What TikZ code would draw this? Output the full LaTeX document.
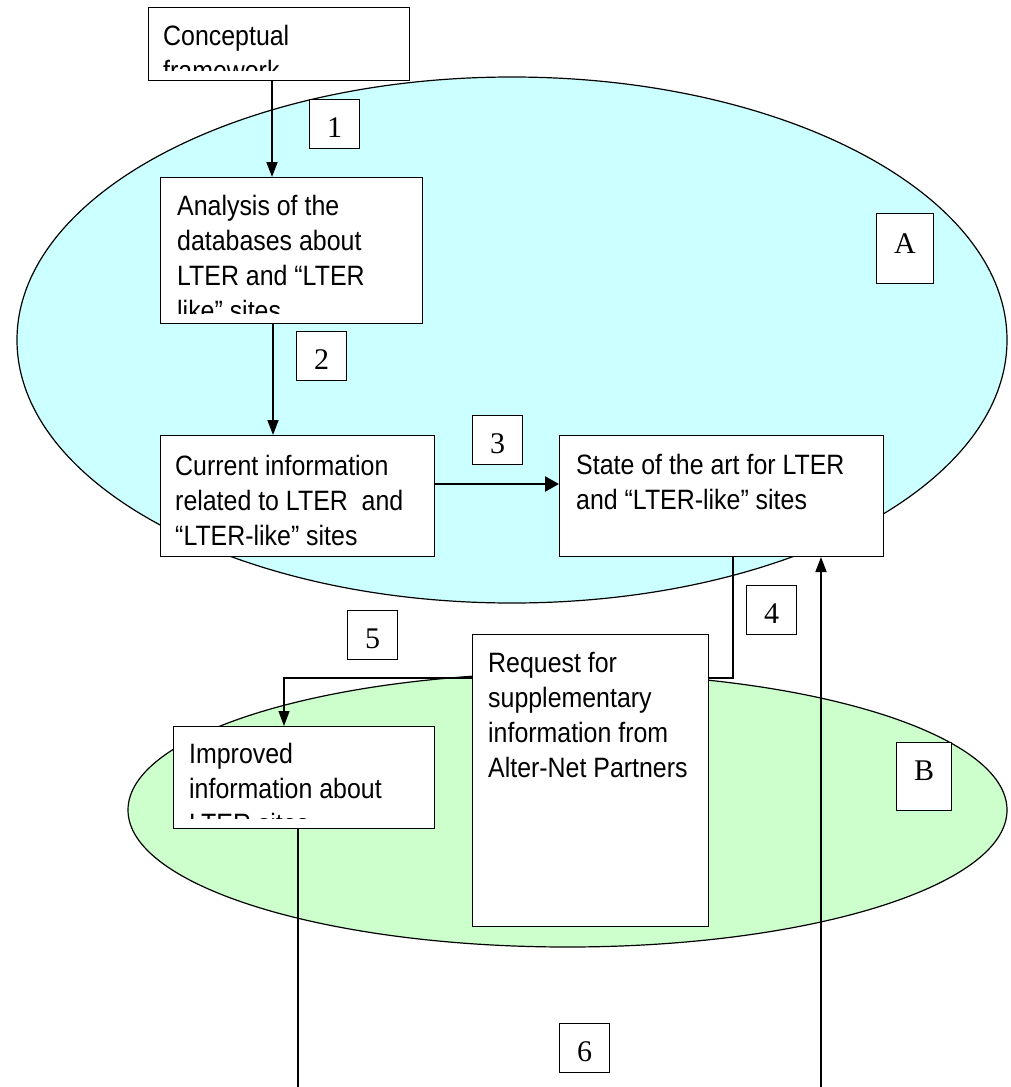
\documentclass[tikz,border=0pt]{standalone}
\usepackage{fontspec}
\newfontfamily\boxfamily{Liberation Sans}[FakeStretch=0.89]
\newfontfamily\labfamily{Liberation Serif}
\usepackage{tikz}
\usetikzlibrary{arrows.meta}
\definecolor{zoneA}{HTML}{CCFFFF}
\definecolor{zoneB}{HTML}{CCFFCC}
\pgfdeclarelayer{zones}
\pgfdeclarelayer{links}
\pgfsetlayers{zones,links,main}

\begin{document}
\begin{tikzpicture}[x=1pt, y=-1pt,
    txtbox/.style={draw, fill=white, line width=1pt, inner sep=0pt, anchor=north west},
    txt/.style={anchor=north west, inner sep=0pt, align=left,
      font={\boxfamily\fontsize{28}{35}\selectfont}},
    numbox/.style={draw, fill=white, line width=1pt, inner sep=0pt, anchor=north west,
      font={\labfamily\fontsize{30}{36}\selectfont},
      minimum width=50pt, text height=38pt, text depth=11pt},
    link/.style={line width=1.2pt},
    flow/.style={line width=1.7pt, -{Triangle[length=15pt,width=11pt]}},
    bigflow/.style={line width=2.6pt, -{Triangle[length=14pt,width=15pt]}}]
        \useasboundingbox (0,0) rectangle (1010,1087);
        \begin{pgfonlayer}{zones}
          \draw[fill=zoneA, line width=1.2pt] (512,340) ellipse [x radius=495pt, y radius=263pt];
          \draw[fill=zoneB, line width=1.2pt] (567.5,810) ellipse [x radius=439.5pt, y radius=137pt];
        \end{pgfonlayer}

        % text boxes
        \node[txtbox, minimum width=261pt, minimum height=73pt] (concept) at (148,7) {};
        \node[txtbox, minimum width=262pt, minimum height=146pt] (analysis) at (160,177) {};
        \node[txtbox, minimum width=274pt, minimum height=121pt] (current) at (160,435) {};
        \node[txtbox, minimum width=324pt, minimum height=121pt] (state) at (559,435) {};
        \node[txtbox, minimum width=236pt, minimum height=292pt] (request) at (472,634) {};
        \node[txtbox, minimum width=261pt, minimum height=102pt] (improved) at (173,726) {};

        \begin{scope}
          \clip (concept.north west) rectangle ([yshift=11pt]concept.south east);
          \node[txt] (conceptText) at ([xshift=15pt,yshift=-18pt]concept.north west)
            {Conceptual\\framework};
        \end{scope}
        \begin{scope}
          \clip (analysis.north west) rectangle ([yshift=11pt]analysis.south east);
          \node[txt] (analysisText) at ([xshift=17pt,yshift=-18pt]analysis.north west)
            {Analysis of the\\databases about\\LTER and “LTER\\like” sites};
        \end{scope}
        \node[txt] (currentText) at ([xshift=15pt,yshift=-20pt]current.north west)
          {Current information\\related to LTER\ \ and\\“LTER-like” sites};
        \node[txt] (stateText) at ([xshift=17pt,yshift=-19pt]state.north west)
          {State of the art for LTER\\and “LTER-like” sites};
        \node[txt] (requestText) at ([xshift=16pt,yshift=-18pt]request.north west)
          {Request for\\supplementary\\information from\\Alter-Net Partners};
        \begin{scope}
          \clip (improved.north west) rectangle ([yshift=11pt]improved.south east);
          \node[txt] (improvedText) at ([xshift=16pt,yshift=-17pt]improved.north west)
            {Improved\\information about\\LTER sites};
        \end{scope}

        % numbers and zone letters
        \node[numbox] (n1) at (309,99) {1};
        \node[numbox] (n2) at (296,331) {2};
        \node[numbox] (n3) at (472,415) {3};
        \node[numbox] (n4) at (746,585) {4};
        \node[numbox] (n5) at (347,610) {5};
        \node[numbox] (n6) at (559,1023) {6};
        \node[numbox, minimum width=57pt, text height=40pt, text depth=30pt] (zA) at (876,213) {A};
        \node[numbox, minimum width=55pt, text height=38pt, text depth=30pt] (zB) at (896,742) {B};

        \coordinate (outL) at (298,1087);
        \coordinate (outR) at (821,1087);
        \begin{pgfonlayer}{links}
          \draw[flow] ([xshift=124pt]concept.south west) -- ([xshift=112pt]analysis.north west);
          \draw[flow] ([xshift=113pt]analysis.south west) -- ([xshift=113pt]current.north west);
          \draw[bigflow] ([yshift=12pt]current.east) -- ([yshift=12pt]state.west);
          \draw[link, -{Triangle[length=15pt,width=11pt]}] ([xshift=174pt]state.south west)
            -- ++(0,121) -| ([xshift=111pt]improved.north west);
          \draw[link] ([xshift=125pt]improved.south west) -- (outL);
          \draw[flow] (outR) -- (state.south -| outR);
        \end{pgfonlayer}
\end{tikzpicture}
\end{document}
